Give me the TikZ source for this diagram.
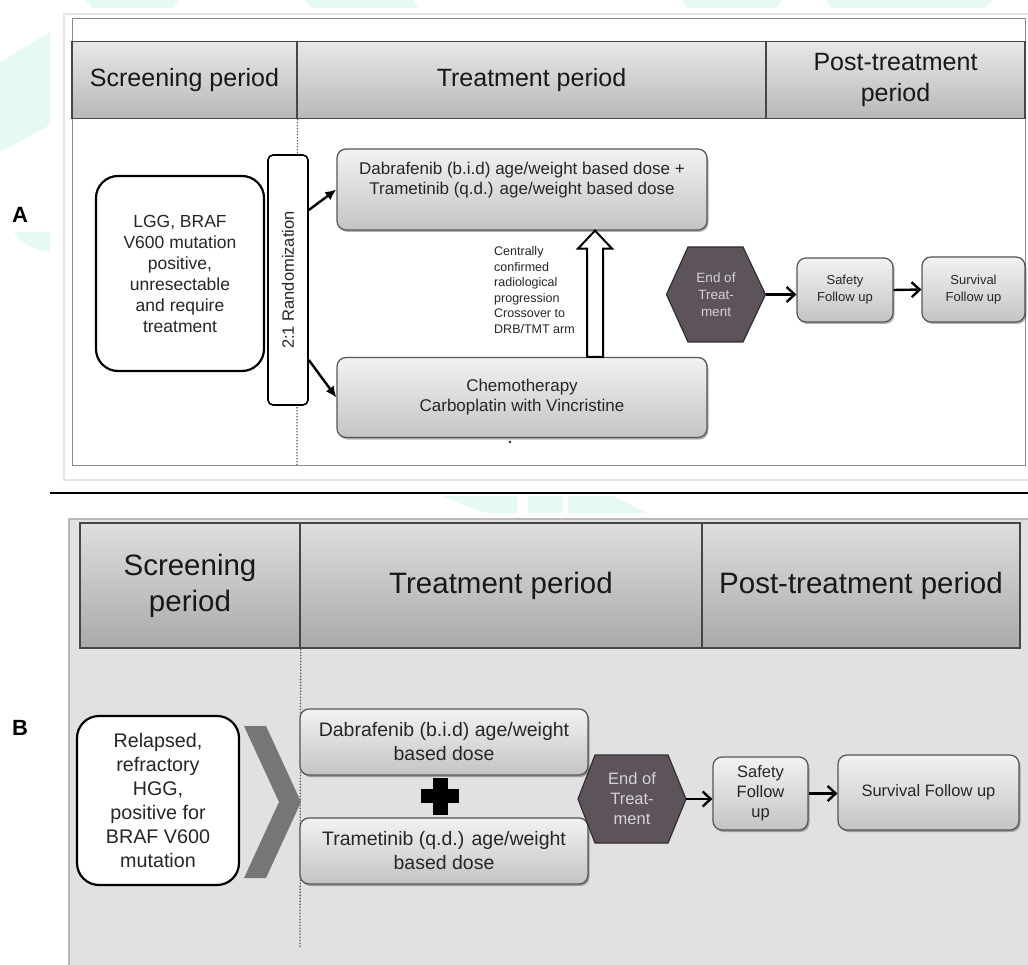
\documentclass[tikz,border=0pt]{standalone}
\usepackage{fontspec}
\setmainfont{Liberation Sans}
\usetikzlibrary{arrows.meta,shadows,calc}
\definecolor{wm}{RGB}{230,250,244}
\definecolor{hdrAtop}{RGB}{232,232,232}
\definecolor{hdrAbot}{RGB}{184,184,184}
\definecolor{hdrBtop}{RGB}{222,222,222}
\definecolor{hdrBbot}{RGB}{170,170,170}
\definecolor{hdrline}{RGB}{70,70,70}
\definecolor{hdrtext}{RGB}{24,24,24}
\definecolor{boxtop}{RGB}{242,242,242}
\definecolor{boxbot}{RGB}{196,196,196}
\definecolor{boxline}{RGB}{85,85,85}
\definecolor{hexfill}{RGB}{92,84,90}
\definecolor{hexline}{RGB}{50,46,50}
\definecolor{hextext}{RGB}{215,210,215}
\definecolor{txt}{RGB}{38,38,38}
\definecolor{panelB}{RGB}{225,225,225}
\definecolor{frameA}{RGB}{140,140,140}
\definecolor{chev}{RGB}{118,118,118}
\definecolor{dotc}{RGB}{90,90,90}
\newcommand{\fsHA}{\fontsize{25}{31}\selectfont}
\newcommand{\fsHB}{\fontsize{29.5}{36}\selectfont}
\newcommand{\fsBA}{\fontsize{17}{20}\selectfont}
\newcommand{\fsLG}{\fontsize{17.5}{21}\selectfont}
\newcommand{\fsRA}{\fontsize{16.5}{20}\selectfont}
\newcommand{\fsXA}{\fontsize{12.5}{15.6}\selectfont}
\newcommand{\fsSA}{\fontsize{13}{17}\selectfont}
\newcommand{\fsHxA}{\fontsize{13.5}{17}\selectfont}
\newcommand{\fsBB}{\fontsize{19.5}{24}\selectfont}
\newcommand{\fsRB}{\fontsize{19.7}{24}\selectfont}
\newcommand{\fsSB}{\fontsize{16.5}{20}\selectfont}
\newcommand{\fsLab}{\fontsize{22}{26}\selectfont\bfseries}
\tikzset{
  hdrA/.style={draw=hdrline, line width=1.2pt, top color=hdrAtop, bottom color=hdrAbot, inner sep=0pt, align=center, text=hdrtext, font=\fsHA},
  hdrB/.style={draw=hdrline, line width=1.4pt, top color=hdrBtop, bottom color=hdrBbot, inner sep=0pt, align=center, text=hdrtext, font=\fsHB},
  gbox/.style={draw=boxline, line width=1.2pt, rounded corners=9pt, top color=boxtop, bottom color=boxbot, inner sep=0pt, align=center, text=txt, drop shadow={shadow xshift=1.5pt, shadow yshift=-2pt, opacity=0.3, fill=black}},
  wbox/.style={draw=black, line width=2.2pt, rounded corners=22pt, fill=white, inner sep=0pt, align=center, text=txt},
  rbox/.style={draw=black, line width=1.6pt, rounded corners=5pt, fill=white, inner sep=0pt},
  dotl/.style={draw=dotc, line width=1.3pt, dash pattern=on 1.3pt off 1.7pt},
  arrT/.style={line width=2.4pt, -{Straight Barb[length=8pt,width=15pt]}},
  arrL/.style={line width=2.4pt, -{Latex[length=11pt,width=10pt]}},
  hexsty/.style={fill=hexfill, draw=hexline, line width=1.2pt},
  hextxt/.style={text=hextext, align=center, inner sep=0pt},
  blockarr/.style={fill=white, draw=black, line width=2pt, line join=miter},
  plaintxt/.style={inner sep=0pt, text=txt}
}
\begin{document}
\begin{tikzpicture}[x=1pt,y=-1pt]
\useasboundingbox (0,0) rectangle (1028,965);
\fill[white] (0,0) rectangle (1028,965);
% faint watermark shapes
\fill[wm] (85,0) -- (180,0) -- (172,8) -- (93,8) -- cycle;
\fill[wm] (305,0) -- (413,0) -- (418,8) -- (312,8) -- cycle;
\fill[wm] (682,0) -- (782,0) -- (776,8) -- (688,8) -- cycle;
\fill[wm] (826,0) -- (992,0) -- (985,8) -- (832,8) -- cycle;
\fill[wm] (0,62) -- (50,32) -- (50,125) -- (0,152) -- cycle;
\fill[wm] (14,232) -- (50,232) -- (50,252) .. controls (35,250) and (22,244) .. (14,232) -- cycle;
\fill[wm] (443,496) -- (517,496) -- (517,513) -- (487,513) .. controls (470,508) and (455,502) .. (443,496) -- cycle;
\fill[wm] (528,496) -- (563,496) -- (563,513) -- (528,513) -- cycle;
\fill[wm] (568,496) -- (613,496) -- (647,513) -- (568,513) -- cycle;

% ---------------- Panel A ----------------
\draw[gray!20, line width=1.5pt] (1028,14) -- (64,14) -- (64,480) -- (1028,480);
\draw[frameA, line width=1pt, fill=white] (72,19) rectangle (1025,465);
\node[hdrA, minimum width=225pt, minimum height=77pt] (hA1) at (184.5,80) {Screening period};
\node[hdrA, minimum width=469pt, minimum height=77pt] (hA2) at (531.5,80) {Treatment period};
\node[hdrA, minimum width=259pt, minimum height=77pt] (hA3) at (895.5,80) {Post-treatment\\period};
\coordinate (dA) at (297,465);
\draw[dotl] (hA1.south east) -- (dA);

\node[wbox, minimum width=168pt, minimum height=195pt, font=\fsLG] (lgg) at (180,273.5) {LGG, BRAF\\V600 mutation\\positive,\\unresectable\\and require\\treatment};
\node[rbox, minimum width=40pt, minimum height=250pt] (rand) at (288,280) {};
\node[plaintxt, rotate=90, font=\fsRA] (randT) at (rand.center) {2:1 Randomization};

\node[gbox, minimum width=370pt, minimum height=81pt] (dabA) at (522,189.5) {};
\node[plaintxt, align=center, font=\fsBA] (dabAT) at (522,180) {Dabrafenib (b.i.d) age/weight based dose +\\Trametinib (q.d.) age/weight based dose};
\node[gbox, minimum width=370pt, minimum height=80pt, font=\fsBA] (chemo) at (522,397.5) {Chemotherapy\\Carboplatin with Vincristine};
\fill[txt] (510,442) circle (1.3pt);

\draw[arrL] ($(rand.east)+(0,-70)$) -- (dabA.west);
\draw[arrL] ($(rand.east)+(0,80)$) -- (chemo.west);

\coordinate (xa) at (595,0);
\draw[blockarr] ($(chemo.north -| xa)+(-8,0)$) -- ($(dabA.south -| xa)+(-8,18)$) -- ($(dabA.south -| xa)+(-17,18)$) -- (dabA.south -| xa) -- ($(dabA.south -| xa)+(17,18)$) -- ($(dabA.south -| xa)+(8,18)$) -- ($(chemo.north -| xa)+(8,0)$) -- cycle;
\node[plaintxt, align=left, anchor=west, font=\fsXA] (xover) at (494,290) {Centrally\\confirmed\\radiological\\progression\\Crossover to\\DRB/TMT arm};

\coordinate (cA) at (716,294.5);
\filldraw[hexsty] ($(cA)+(-49.5,0)$) -- ($(cA)+(-28,-47.5)$) -- ($(cA)+(27,-47.5)$) -- ($(cA)+(49.5,0)$) -- ($(cA)+(27,47.5)$) -- ($(cA)+(-28,47.5)$) -- cycle;
\node[hextxt, font=\fsHxA, minimum width=99pt] (eotA) at (cA) {End of\\Treat-\\ment};
\node[gbox, minimum width=96pt, minimum height=64pt, font=\fsSA] (safA) at (845,290) {Safety\\Follow up};
\node[gbox, minimum width=103pt, minimum height=65pt, font=\fsSA] (survA) at (973.5,289.5) {Survival\\Follow up};
\draw[arrT] (eotA.east) -- (eotA.east -| safA.west);
\draw[arrT] (safA.east) -- (survA.west);

% separator and labels
\draw[line width=2.5pt] (50,493) -- (1028,493);
\node[font=\fsLab, inner sep=0pt] (labA) at (20,215) {A};
\node[font=\fsLab, inner sep=0pt] (labB) at (20,728) {B};

% ---------------- Panel B ----------------
\fill[panelB] (68,519) rectangle (1028,965);
\draw[gray!55, line width=1.5pt] (69,965) -- (69,519) -- (1028,519);
\node[hdrB, minimum width=220pt, minimum height=125pt] (hB1) at (190,585.5) {Screening\\period};
\node[hdrB, minimum width=402pt, minimum height=125pt] (hB2) at (501,585.5) {Treatment period};
\node[hdrB, minimum width=318pt, minimum height=125pt] (hB3) at (861,585.5) {Post-treatment period};
\coordinate (dB) at (300,948);
\draw[dotl] (hB1.south east) -- (dB);

\node[wbox, minimum width=162pt, minimum height=169pt, font=\fsRB] (relB) at (158,800.5) {Relapsed,\\refractory\\HGG,\\positive for\\BRAF V600\\mutation};
\fill[chev] (244,726) -- (266,726) -- (301,802) -- (266,878) -- (244,878) -- (279,802) -- cycle;

\node[gbox, minimum width=288pt, minimum height=66pt, font=\fsBB] (dabB) at (444,742) {Dabrafenib (b.i.d) age/weight\\based dose};
\node[gbox, minimum width=288pt, minimum height=66pt, font=\fsBB] (trmB) at (444,851) {Trametinib (q.d.) age/weight\\based dose};
\fill[black] (421,789) rectangle (459,803);
\fill[black] (433,778) rectangle (448,815);

\coordinate (cB) at (632,799);
\filldraw[hexsty] ($(cB)+(-54,0)$) -- ($(cB)+(-37,-44)$) -- ($(cB)+(36,-44)$) -- ($(cB)+(54,0)$) -- ($(cB)+(36,44)$) -- ($(cB)+(-37,44)$) -- cycle;
\node[hextxt, font=\fsSB, minimum width=108pt] (eotB) at (cB) {End of\\Treat-\\ment};
\node[gbox, minimum width=95pt, minimum height=73pt, font=\fsSB] (safB) at (760.5,793.5) {Safety\\Follow\\up};
\node[gbox, minimum width=181pt, minimum height=75pt, font=\fsSB] (survB) at (928.5,792.5) {Survival Follow up};
\draw[arrT] (eotB.east) -- (eotB.east -| safB.west);
\draw[arrT] (safB.east) -- (safB.east -| survB.west);
\end{tikzpicture}
\end{document}
